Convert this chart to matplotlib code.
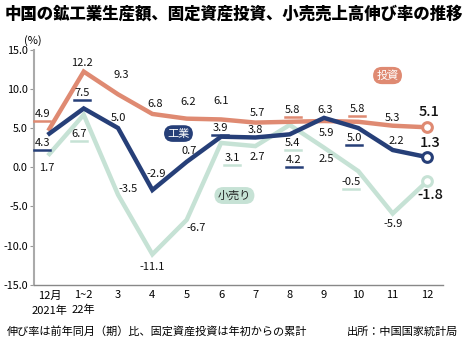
import matplotlib
matplotlib.use("Agg")
import matplotlib.pyplot as plt
from matplotlib.transforms import ScaledTranslation

plt.rcParams["font.family"] = ["Noto Sans CJK JP", "DejaVu Sans"]

# data
months = ["12月\n2021年", "1~2\n22年", "3", "4", "5", "6", "7", "8", "9", "10", "11", "12"]
investment = [4.9, 12.2, 9.3, 6.8, 6.2, 6.1, 5.7, 5.8, 5.9, 5.8, 5.3, 5.1]
industry = [4.3, 7.5, 5.0, -2.9, 0.7, 3.9, 3.8, 4.2, 6.3, 5.0, 2.2, 1.3]
retail = [1.7, 6.7, -3.5, -11.1, -6.7, 3.1, 2.7, 5.4, 2.5, -0.5, -5.9, -1.8]
yticks = [15, 10, 5, 0, -5, -10, -15]

ORANGE = "#df8a72"
NAVY = "#263f78"
MINT = "#c6e2d5"

# label offsets in pixels (dx, dy, underline)
inv_pos = [(-7, 15, True), (-2, 9, False), (3, 19, False), (3, 10, False), (1, 17, False),
           (0, 18, False), (2, 10, False), (3, 12, True), (2, -12, False), (-1, 13, True),
           (0, 8, False), (2, 15, False)]
ind_pos = [(-7, -9, True), (-2, 15, True), (0, 10, False), (4, 16, False), (2, 11, False),
           (-1, 9, True), (0, 7, False), (4, -26, True), (1, 8, False), (-4, -10, True),
           (4, 9, False), (3, 14, False)]
ret_pos = [(-3, -14, False), (-5, -19, True), (10, 6, False), (0, -13, False), (9, -8, False),
           (11, -15, True), (2, -11, False), (3, -18, True), (2, -11, False), (-7, -11, True),
           (0, -10, False), (3, -14, False)]

fig = plt.figure(figsize=(4.65, 3.4), dpi=100)
ax = fig.add_axes([0.073, 0.162, 0.88, 0.692])
x = list(range(len(months)))

for vals, col, z in [(retail, MINT, 2), (investment, ORANGE, 3), (industry, NAVY, 4)]:
    ax.plot(x, vals, color=col, lw=3.2, zorder=z, solid_joinstyle="miter")
    ax.plot(x[-1], vals[-1], "o", ms=7, mfc="white", mec=col, mew=2.2, zorder=z + 0.5)

ax.set_xlim(-0.45, 11.47)
ax.set_ylim(-15, 15)


def add_labels(vals, pos, col):
    for i, (v, (dx, dy, ul)) in enumerate(zip(vals, pos)):
        last = i == len(vals) - 1
        ax.annotate(f"{v:.1f}", (i, v), xytext=(dx, dy), textcoords="offset pixels",
                    ha="center", va="center", fontsize=10.5 if last else 8,
                    fontweight="medium" if last else "normal",
                    color="#111111", zorder=6)
        if ul:
            off = ax.transData + ScaledTranslation(0, (dy - 7) / 100, fig.dpi_scale_trans)
            px, py = off.transform((i, v))
            W, H = fig.bbox.width, fig.bbox.height
            fig.add_artist(plt.Line2D([(px + dx - 8) / W, (px + dx + 8) / W], [py / H, py / H],
                                      color=col, lw=1.8, zorder=6))


add_labels(investment, inv_pos, ORANGE)
add_labels(industry, ind_pos, NAVY)
add_labels(retail, ret_pos, MINT)

# series badges
badge = dict(boxstyle="round,pad=0.3,rounding_size=0.8", ec="none")
ax.text(9.85, 11.7, "投資", ha="center", va="center", fontsize=8, color="white", zorder=7,
        bbox=dict(badge, fc=ORANGE))
ax.text(3.76, 4.3, "工業", ha="center", va="center", fontsize=8, color="white", zorder=7,
        bbox=dict(badge, fc=NAVY))
ax.text(5.39, -3.6, "小売り", ha="center", va="center", fontsize=8, color="#222222", zorder=7,
        bbox=dict(badge, fc=MINT))

ax.set_xticks(x)
ax.set_xticklabels(months, fontsize=8, linespacing=1.55)
ax.set_yticks(yticks)
ax.set_yticklabels([f"{t:.1f}" for t in yticks], fontsize=7.8)
ax.tick_params(axis="x", length=0, pad=4)
ax.tick_params(axis="y", length=3, color="#999999", pad=1.5)
for s in ["top", "right"]:
    ax.spines[s].set_visible(False)
ax.spines["left"].set_color("#aaaaaa")
ax.spines["left"].set_linewidth(1.5)
ax.spines["bottom"].set_color("#888888")
ax.spines["bottom"].set_linewidth(1.0)

fig.text(0.071, 0.882, "(%)", ha="center", va="center", fontsize=8)
fig.text(0.01, 0.96, "中国の鉱工業生産額、固定資産投資、小売売上高伸び率の推移",
         ha="left", va="center", fontsize=11.8, fontweight="heavy")
fig.text(0.015, 0.025, "伸び率は前年同月（期）比、固定資産投資は年初からの累計",
         ha="left", va="center", fontsize=8)
fig.text(0.985, 0.025, "出所：中国国家統計局", ha="right", va="center", fontsize=8)

fig.savefig("out.png", dpi=100)
